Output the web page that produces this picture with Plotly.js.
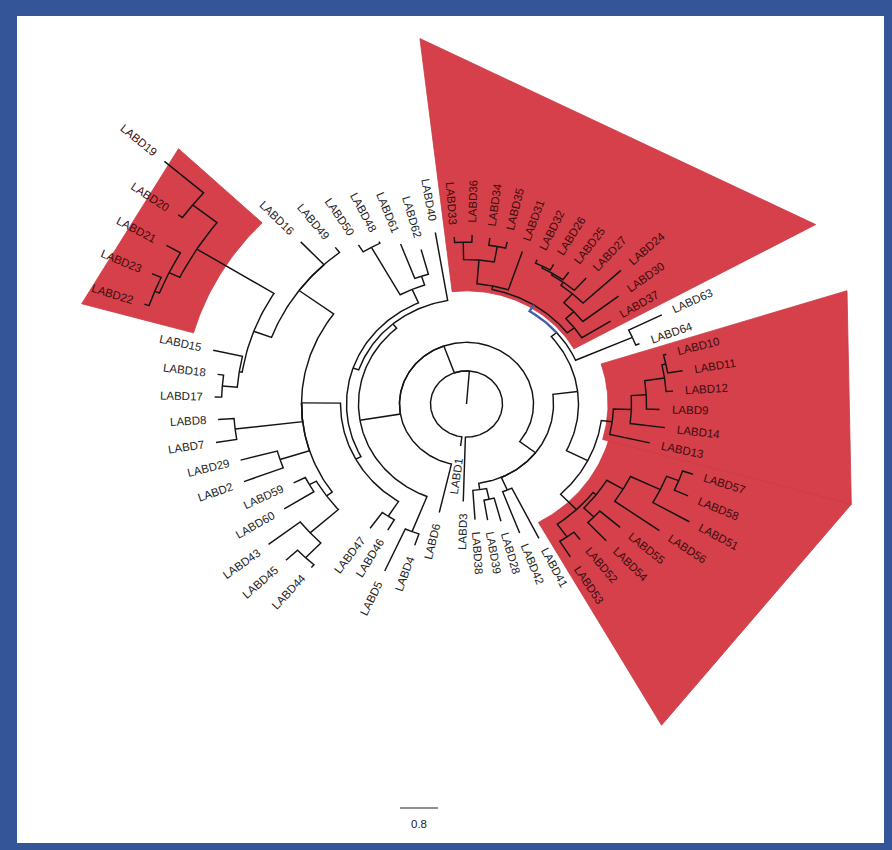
<!DOCTYPE html>
<html>
<head>
<meta charset="utf-8">
<script src="https://cdn.plot.ly/plotly-3.0.1.min.js"></script>
<style>html,body{margin:0;padding:0;background:#fff}</style>
</head>
<body>
<div id="chart" style="width:892px;height:850px"></div>
<script>
// ---- LABD gene family tree (branch lengths in substitutions per site) ----
const cladeA = "((LABD37:0.716,(LABD30:0.947,(LABD24:1.095,(LABD27:0.379,(LABD25:0.211,(LABD26:0.147,LABD32:0.084):0.042):0.042):0.084):0.274):0.232):0.189,(LABD31:0.926,((LABD35:0.147,LABD34:0.168):0.358,(LABD36:0.168,LABD33:0.126):0.4):0.547):0.084)";
const cladeB = "(LABD13:0.863,(LABD14:0.737,(LABD9:0.274,(LABD12:0.147,(LABD11:0.316,LABD10:0.063):0.084):0.421):0.316):0.379)";
const cladeC = "((LABD53:0.421,LABD52:0.211):0.358,((LABD54:0.568,LABD55:0.568):0.295,(LABD56:1.158,(LABD51:0.884,(LABD58:0.316,LABD57:0.232):0.274):0.695):0.4):0.084)";
const cladeD = "((LABD19:1.095,LABD20:0.105):0.653,(LABD21:0.337,(LABD23:0.211,LABD22:0.105):0.105):0.253)";
const group48_62 = "((LABD62:0.589,LABD61:0.842):0.211,(LABD48:0.042,LABD50:0.189):1.242)";
const group43_60 = "((LABD59:0.274,LABD60:0.737):0.168,(LABD43:0.842,(LABD45:0.337,LABD44:0.084):0.463):0.8)";
const group15_49 = `(LABD49:0.147,LABD16:0.716,(${cladeD}:1.916,(LABD15:0.632,(LABD18:0.126,LABD17:0.147):0.316):0.063):0.4)`;

const rightHalf = `((LABD38:0.674,(LABD39:0.463,LABD28:0.547):0.253):0.147,(LABD42:1.011,LABD41:1.284):0.316,((${cladeC}:0.484,${cladeB}:0.232):0.505,((LABD64:0.084,LABD63:0.779):1.305,${cladeA}:0.168):0.147):0.526)`;
const leftHalf = `((LABD40:1.579,(${group48_62}:0.337,((${group15_49}:0.905,(LABD8:0.337,LABD7:0.442):1.432,(LABD29:0.8,LABD2:0.884):0.653,${group43_60}:0.147):0.821,(LABD47:0.442,LABD46:0.274):0.4):0.126):0.126):0.126,(LABD5:1.053,LABD4:0.274):0.863)`;
const newickTree = `(LABD3:1.474,(${rightHalf}:0.421,${leftHalf}:0.863,LABD6:1.137):0.653,LABD1:0.211):0.758;`;

// clades shaded in red (given by their first and last member)
const highlightedClades = [["LABD37", "LABD33"], ["LABD13", "LABD10"], ["LABD53", "LABD57"], ["LABD19", "LABD22"]];
// branch drawn as selected
const selectedClade = ["LABD37", "LABD33"];
const scaleBarLength = 0.8;
const scaleBarLabel = "0.8";

// ---- page geometry ----
const W = 892, H = 850;
const MARGIN = {l: 17, r: 8, t: 16, b: 7};
const CX = 466.5, CY = 404;          // pixel position of the tree centre
const PXU_X = 47.5, PXU_Y = 43.7;    // pixels per branch-length unit
const START_ANGLE = -91.75;          // angle of the first tip (degrees)
const SHADE_OUTER = 8.42;            // outer reach of shaded clades
const SHADE_INSET = 0.72;
const RED = "rgb(213,64,74)";
const BLUE_FRAME = "rgb(52,86,152)";
const LABEL_FONT = "Liberation Sans";
const LABEL_SIZE = 11.5;
const LABEL_GAP = 12;
const D = Math.PI / 180;

function parseNewick(s) {
  let i = 0;
  function node() {
    const n = {children: [], name: "", len: 0};
    if (s[i] === "(") {
      i++;
      n.children.push(node());
      while (s[i] === ",") { i++; n.children.push(node()); }
      i++;
    }
    let name = "";
    while (i < s.length && !",():;".includes(s[i])) name += s[i++];
    n.name = name;
    if (s[i] === ":") {
      i++;
      let num = "";
      while (i < s.length && !",();".includes(s[i])) num += s[i++];
      n.len = parseFloat(num);
    }
    return n;
  }
  return node();
}

const root = parseNewick(newickTree.replace(/\s+/g, ""));
const leaves = [], nodes = [];
(function walk(n, p) {
  n.parent = p;
  n.r = (p ? p.r : 0) + n.len;
  nodes.push(n);
  if (!n.children.length) leaves.push(n);
  n.children.forEach(c => walk(c, n));
})(root, null);

const STEP = 360 / leaves.length;
leaves.forEach((l, k) => { l.angle = START_ANGLE + k * STEP; l.lo = l.hi = l.angle; });
(function place(n) {
  if (!n.children.length) return;
  n.children.forEach(place);
  const f = n.children[0], l = n.children[n.children.length - 1];
  n.angle = (f.angle + l.angle) / 2;
  n.lo = f.lo; n.hi = l.hi;
})(root);

const polar = (r, a) => [r * Math.cos(a * D), r * Math.sin(a * D)];
const byName = {};
leaves.forEach(l => byName[l.name] = l);
function ancestors(n) { const out = []; while (n) { out.push(n); n = n.parent; } return out; }
function mrca(a, b) {
  const up = new Set(ancestors(byName[a]));
  let n = byName[b];
  while (!up.has(n)) n = n.parent;
  return n;
}

// each branch: arc at the parent's radius, then the radial run out to the node
function branchPoints(n) {
  const pr = n.parent ? n.parent.r : 0;
  const pa = n.parent ? n.parent.angle : n.angle;
  const steps = Math.max(1, Math.ceil(Math.abs(n.angle - pa)));
  const pts = [];
  for (let k = 0; k <= steps; k++) pts.push(polar(pr, pa + (n.angle - pa) * k / steps));
  pts.push(polar(n.r, n.angle));
  return pts;
}

const selectedNode = mrca(selectedClade[0], selectedClade[1]);
const tx = [], ty = [], bx = [], by = [];
nodes.forEach(n => {
  const pts = branchPoints(n);
  const X = n === selectedNode ? bx : tx, Y = n === selectedNode ? by : ty;
  pts.forEach(p => { X.push(p[0]); Y.push(p[1]); });
  X.push(null); Y.push(null);
});

// shaded clades
const traces = [];
const shadedLeaves = new Set();
highlightedClades.forEach(([a, b]) => {
  const n = mrca(a, b);
  (function mark(m) { if (!m.children.length) shadedLeaves.add(m.name); m.children.forEach(mark); })(n);
  const a1 = n.lo - STEP / 2, a2 = n.hi + STEP / 2;
  const rIn = n.r - Math.min(n.len / 2, SHADE_INSET);
  const xs = [], ys = [];
  const steps = Math.ceil(a2 - a1);
  for (let k = 0; k <= steps; k++) { const p = polar(rIn, a1 + (a2 - a1) * k / steps); xs.push(p[0]); ys.push(p[1]); }
  [polar(SHADE_OUTER, a2), polar(SHADE_OUTER, a1)].forEach(p => { xs.push(p[0]); ys.push(p[1]); });
  xs.push(xs[0]); ys.push(ys[0]);
  traces.push({x: xs, y: ys, mode: "lines", fill: "toself", fillcolor: RED,
               line: {width: 0.8, color: "rgb(200,58,68)"}, hoverinfo: "skip", showlegend: false});
});

traces.push({x: tx, y: ty, mode: "lines", line: {color: "#141414", width: 1.45},
             hoverinfo: "skip", showlegend: false});
traces.push({x: bx, y: by, mode: "lines", line: {color: "rgb(70,92,172)", width: 2.4},
             hoverinfo: "skip", showlegend: false});

// scale bar
const SB_X = -1.4, SB_Y = -9.245;
traces.push({x: [SB_X, SB_X + scaleBarLength], y: [SB_Y, SB_Y], mode: "lines",
             line: {color: "#222", width: 1.2}, hoverinfo: "skip", showlegend: false});

// tip labels, running along the radius
const ctx = document.createElement("canvas").getContext("2d");
ctx.font = `${LABEL_SIZE}px '${LABEL_FONT}'`;
const annotations = leaves.map(l => {
  const c = Math.cos(l.angle * D), s = Math.sin(l.angle * D);
  const vx = c * PXU_X, vy = s * PXU_Y;
  const pxPerUnit = Math.hypot(vx, vy);
  const screenAng = Math.atan2(vy, vx) / D;
  let textangle = c >= 0 ? -screenAng : 180 - screenAng;
  while (textangle > 180) textangle -= 360;
  while (textangle <= -180) textangle += 360;
  const w = ctx.measureText(l.name).width;
  const rc = l.r + (LABEL_GAP + w / 2) / pxPerUnit;
  const p = polar(rc, l.angle);
  return {x: p[0], y: p[1], xref: "x", yref: "y", text: l.name, showarrow: false,
          textangle: textangle, xanchor: "center", yanchor: "middle", borderpad: 0,
          font: {family: LABEL_FONT, size: LABEL_SIZE, color: shadedLeaves.has(l.name) ? "#3c0c0e" : "#1e1e1e"}};
});
annotations.push({x: SB_X + scaleBarLength / 2, y: SB_Y - 0.37, xref: "x", yref: "y",
                  text: scaleBarLabel, showarrow: false,
                  font: {family: LABEL_FONT, size: 11.5, color: "#222"}});

const layout = {
  width: W, height: H,
  margin: MARGIN,
  paper_bgcolor: BLUE_FRAME,
  plot_bgcolor: "#ffffff",
  showlegend: false,
  xaxis: {range: [(MARGIN.l - CX) / PXU_X, (W - MARGIN.r - CX) / PXU_X], visible: false, fixedrange: true},
  yaxis: {range: [(CY - (H - MARGIN.b)) / PXU_Y, (CY - MARGIN.t) / PXU_Y], visible: false, fixedrange: true},
  annotations: annotations
};

Plotly.newPlot("chart", traces, layout, {staticPlot: true, displayModeBar: false});
</script>
</body>
</html>
